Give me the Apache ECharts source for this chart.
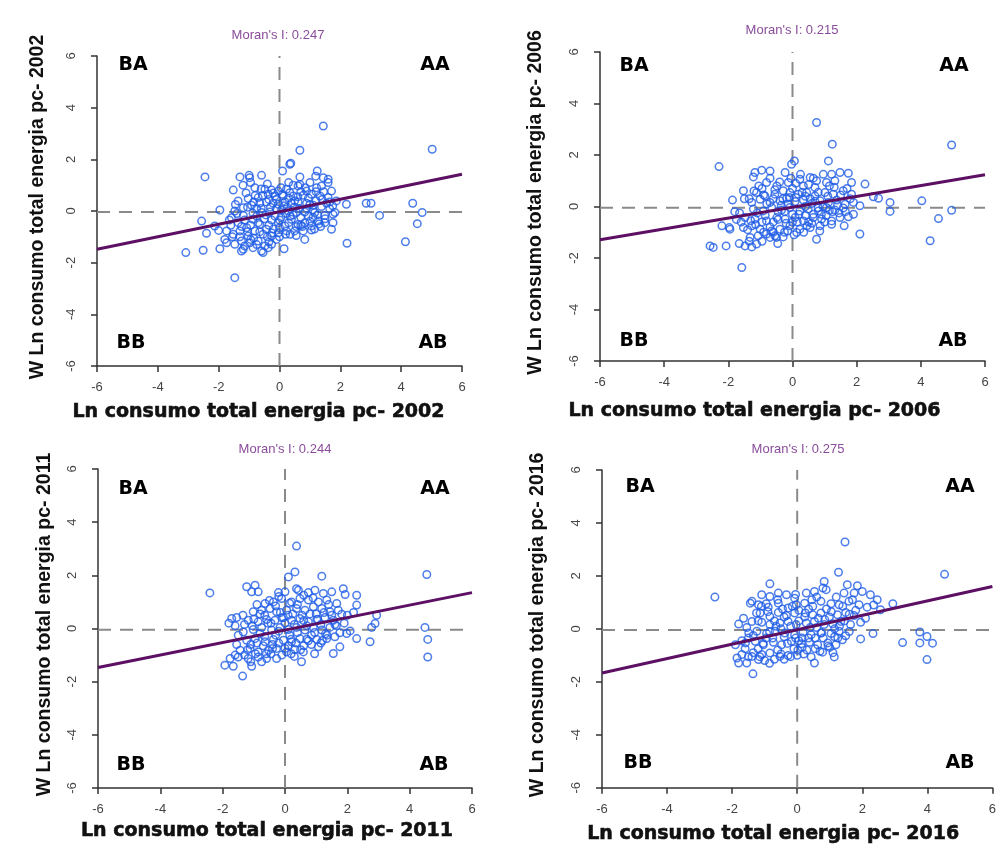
<!DOCTYPE html>
<html>
<head>
<meta charset="utf-8">
<style>
html,body{margin:0;padding:0;background:#fff;}
#chart{width:999px;height:845px;}
</style>
<script src="https://cdn.jsdelivr.net/npm/echarts@6/dist/echarts.min.js"></script>
</head>
<body>
<div id="chart"></div>
<script>
// ---------- data ----------
const years = ['2002', '2006', '2011', '2016'];
const moranI = ['0.247', '0.215', '0.244', '0.275'];
const tickValues = [-6, -4, -2, 0, 2, 4, 6];
const quadrantLabels = ['BA', 'AA', 'BB', 'AB'];
const lineX = [-6, 6];
const lineY2002 = [-1.48, 1.42];
const lineY2006 = [-1.29, 1.23];
const lineY2011 = [-1.47, 1.35];
const lineY2016 = [-1.67, 1.60];
const meanLag = [-0.04, -0.05, -0.05, -0.04];

const points2002 = [
[-2.45,1.32],[-1.30,1.32],[-1.00,1.38],[-0.98,1.29],[-0.59,1.38],[0.10,1.55],[0.37,1.85],[0.34,1.81],[0.67,2.35],[1.44,3.29],[0.67,1.32],[1.24,1.55],[1.19,1.35],[1.44,1.29],[1.60,1.23],
[-1.52,0.81],[-0.81,0.90],[-0.48,0.84],[-0.26,0.81],[-0.04,0.77],[0.23,0.84],[0.34,0.71],[0.61,0.97],[0.67,1.03],[0.89,0.77],[1.22,0.90],[1.38,0.97],[1.60,1.10],[1.71,0.77],[-1.36,0.39],[-1.03,0.48],[-0.70,0.52],[-0.37,0.65],[-0.15,0.58],[0.12,0.58],[0.45,0.58],[0.78,0.61],[1.05,0.65],[1.33,0.58],[1.60,0.52],[1.87,0.39],[2.20,0.26],
[-1.96,0.04],[-1.47,0.00],[-1.19,0.13],[-0.92,0.22],[-0.65,0.30],[-0.43,0.35],[-0.21,0.30],[-0.04,0.26],[0.18,0.35],[0.39,0.30],[0.61,0.35],[0.89,0.30],[1.11,0.22],[1.38,0.17],[1.65,0.09],[1.82,-0.06],[-1.19,-0.17],[-0.87,-0.09],[-0.59,-0.06],[-0.32,-0.04],[0.07,0.04],[0.28,0.00],[0.56,-0.06],[0.83,-0.04],[1.16,-0.06],[1.49,-0.17],[1.76,-0.13],
[-2.56,-0.39],[-2.13,-0.58],[-1.74,-0.77],[-1.58,-0.26],[-1.36,-0.45],[-1.08,-0.65],[-0.87,-0.32],[-0.65,-0.52],[-0.43,-0.71],[-0.26,-0.35],[-0.04,-0.45],[0.18,-0.58],[0.39,-0.32],[0.61,-0.52],[0.83,-0.45],[1.05,-0.58],[1.27,-0.39],[1.49,-0.45],[1.76,-0.45],[1.71,-0.71],[-2.40,-0.86],[-1.80,-1.10],[-1.52,-0.90],[-1.30,-0.77],[-1.03,-0.97],[-0.81,-0.77],[-0.54,-0.90],[-0.26,-0.97],[-0.04,-0.84],[0.23,-0.77],[0.50,-0.77],[0.78,-0.77],[1.05,-0.74],
[-1.74,-1.23],[-1.47,-1.29],[-1.25,-1.16],[-0.98,-1.23],[-0.70,-1.16],[-0.48,-1.35],[-0.26,-1.29],[-0.10,-1.10],[0.83,-1.10],[-1.25,-1.55],[-1.19,-1.48],[-0.87,-1.42],[-0.59,-1.55],[-0.37,-1.42],[-0.54,-1.61],[-3.08,-1.61],[-2.51,-1.52],[-1.96,-1.46],[0.15,-1.46],[2.22,-1.25],[-1.47,-2.58],
[2.85,0.30],[3.01,0.30],[3.29,-0.17],[4.14,-1.19],[4.38,0.30],[4.53,-0.49],[4.69,-0.06],[5.02,2.39],
[-1.1,0.7],[-0.75,0.1],[-0.55,0.6],[-0.3,0.15],[-0.1,0.45],[0.05,0.9],[0.3,0.5],[0.5,0.15],[0.7,0.75],[0.95,0.5],[1.2,0.4],[1.45,0.75],[1.55,0.3],[-1.6,-0.55],[-1.4,-0.1],[-1.15,-0.35],[-0.95,-0.55],[-0.75,-0.2],[-0.5,-0.3],[-0.35,-0.55],[-0.15,-0.2],[0.05,-0.25],[0.2,-0.1],[0.3,-0.45],[0.45,-0.15],[0.7,-0.25],[0.95,-0.2],[1.0,-0.4],[1.25,-0.15],[1.35,-0.6],[-1.3,-1.0],[-1.05,-0.8],[-0.85,-1.05],[-0.65,-0.8],[-0.4,-1.0],[-0.2,-0.7],[0.0,-0.65],[0.35,-0.9],[0.55,-0.6],[0.7,-0.55],[1.15,-0.7],[-0.85,0.35],[-0.6,0.1],[-0.2,0.7],[0.15,0.2],[0.6,0.55],[0.9,0.1],[1.1,0.05],[-1.2,1.0],[0.45,1.0],
[-1.65,-0.35],[-1.45,0.25],[-1.25,-0.6],[-1.05,0.15],[-0.95,-1.1],[-0.8,0.6],[-0.7,-0.45],[-0.6,0.85],[-0.45,-0.15],[-0.35,0.45],[-0.25,-0.85],[-0.1,0.1],[0.0,-0.35],[0.1,0.65],[0.2,-0.9],[0.25,0.15],[0.35,-0.2],[0.5,0.4],[0.55,-0.95],[0.65,0.1],[0.75,-0.6],[0.85,0.9],[1.0,0.25],[1.1,-0.25],[1.2,0.75],[1.3,-0.5],[1.4,0.45],[1.5,-0.3],[1.65,0.35],[-1.55,-1.0],[-1.15,-1.35],[-0.75,-1.3],[-0.35,-1.2],[0.0,-1.0],[-0.95,1.1],[-0.4,1.05],[0.3,1.1],[1.0,1.1],[1.75,0.2],[-2.0,-0.75]
];

const points2006 = [
[0.75,3.26],[1.24,2.42],[1.12,1.77],[-2.29,1.55],[0.06,1.77],[-0.03,1.64],[-1.17,1.32],[-0.96,1.41],[-0.70,1.38],[-1.22,1.15],[-0.23,1.32],
[0.23,1.06],[0.55,1.13],[0.75,1.00],[0.96,1.25],[1.22,1.25],[1.48,1.32],[1.74,1.29],
[-0.81,0.93],[-0.49,0.80],[-0.13,0.93],[0.34,0.80],[0.70,0.74],[1.06,0.93],[1.32,1.00],[1.84,0.93],[2.26,0.87],
[-1.53,0.61],[-1.12,0.54],[-0.86,0.41],[-0.55,0.48],[-0.29,0.61],[-0.08,0.54],[0.18,0.48],[0.44,0.54],[0.70,0.41],[1.01,0.54],[1.27,0.48],[1.58,0.61],[1.84,0.48],[2.52,0.38],
[-1.87,0.25],[-1.27,0.16],[-1.01,0.28],[-0.70,0.16],[-0.39,0.22],[-0.18,0.32],[0.08,0.19],[0.34,0.25],[0.60,0.12],[0.86,0.22],[1.12,0.16],[1.38,0.25],[1.64,0.09],[1.90,0.16],[2.10,0.03],
[-1.22,-0.10],[-0.91,-0.17],[-0.65,-0.04],[-0.34,-0.14],[-0.08,-0.04],[0.23,-0.17],[0.49,-0.10],[0.81,-0.17],[1.06,-0.04],[1.32,-0.14],[1.58,-0.06],
[-1.48,-0.43],[-1.17,-0.49],[-0.81,-0.56],[-0.49,-0.43],[-0.23,-0.49],[0.08,-0.43],[0.34,-0.56],[0.65,-0.43],[0.91,-0.49],[1.22,-0.56],[1.48,-0.43],[1.74,-0.40],
[-1.97,-0.82],[-1.95,-0.88],[-1.53,-0.82],[-1.27,-0.75],[-1.01,-0.88],[-0.70,-0.79],[-0.39,-0.88],[-0.08,-0.75],[0.23,-0.88],[0.55,-0.82],[0.86,-0.75],[1.22,-0.69],[1.61,-0.75],
[-1.32,-1.20],[-1.07,-1.14],[-0.81,-1.07],[-0.55,-1.14],[-0.29,-1.18],[0.13,-1.01],[0.75,-1.27],[2.10,-1.07],
[-2.57,-1.53],[-2.47,-1.59],[-2.07,-1.53],[-1.66,-1.44],[-1.48,-1.53],[-1.27,-1.57],[-1.12,-1.46],[-0.46,-1.44],[-1.58,-2.37],
[2.68,0.32],[3.04,0.16],[3.04,-0.19],[4.03,0.22],[4.29,-1.33],[4.55,-0.47],[4.96,2.39],[4.96,-0.15],
[-0.95,0.7],[-0.6,0.3],[-0.4,0.95],[-0.15,0.1],[0.0,0.7],[0.1,0.35],[0.4,0.0],[0.5,0.85],[0.7,0.2],[0.9,-0.3],[1.1,0.4],[1.3,0.75],[1.45,-0.25],[-1.35,0.3],[-1.1,-0.25],[-0.85,-0.35],[-0.6,-0.6],[-0.45,-0.2],[-0.2,-0.65],[0.0,-0.3],[0.15,-0.6],[0.4,-0.35],[0.6,-0.65],[0.8,-0.05],[1.0,-0.6],[1.15,-0.15],[-1.4,-0.9],[-1.15,-0.7],[-0.9,-1.0],[-0.65,-0.95],[-0.5,-1.2],[-0.15,-0.95],[0.05,-1.1],[0.35,-1.0],[0.5,-0.6],[-1.6,-0.6],[-1.8,-0.2],[0.25,1.25],[-0.7,1.1],[1.9,-0.3],[1.7,0.7],[-0.3,0.3],
[-1.65,-0.25],[-1.5,0.3],[-1.3,-0.55],[-1.05,0.8],[-0.95,-0.6],[-0.8,0.1],[-0.7,-1.2],[-0.55,0.65],[-0.45,-0.5],[-0.35,0.05],[-0.25,-1.0],[-0.1,0.35],[0.0,-0.6],[0.1,0.9],[0.2,-0.3],[0.3,0.55],[0.45,-0.75],[0.55,0.3],[0.65,-0.3],[0.8,0.55],[0.95,0.0],[1.05,-0.35],[1.15,0.8],[1.25,-0.2],[1.4,0.05],[1.5,0.45],[1.65,-0.2],[-1.75,-0.5],[-1.35,-1.35],[-0.95,-1.35],[-0.6,-1.0],[-0.25,-0.2],[0.4,0.4],[0.65,1.1],[-0.05,1.1],[-1.2,0.6],[1.8,0.3],[-2.2,-0.75],[0.85,-0.95],[-0.9,0.45]
];

const points2011 = [
[0.37,3.10],[0.32,2.13],[0.11,1.94],[1.18,1.97],[-2.41,1.34],[-1.23,1.57],[-0.96,1.63],[-1.07,1.38],[-0.86,1.38],[-0.21,1.35],[0.00,1.38],[0.37,1.50],[0.43,1.44],
[0.96,1.44],[1.23,1.32],[1.50,1.38],[1.87,1.50],[1.93,1.28],[2.30,1.25],
[-0.64,0.94],[-0.37,1.00],[-0.11,1.13],[0.21,1.00],[0.48,1.13],[0.75,1.07],[1.07,1.00],[1.34,1.07],[1.66,0.94],[2.30,0.88],
[-1.02,0.63],[-0.75,0.69],[-0.48,0.75],[-0.27,0.63],[0.05,0.69],[0.37,0.75],[0.64,0.69],[0.91,0.82],[1.18,0.75],[1.44,0.63],[1.71,0.69],
[-1.71,0.38],[-1.55,0.41],[-1.18,0.31],[-0.86,0.25],[-0.59,0.34],[-0.32,0.31],[-0.05,0.41],[0.21,0.31],[0.48,0.38],[0.75,0.25],[1.02,0.34],[1.28,0.41],[1.55,0.31],[1.82,0.54],
[2.94,0.50],[2.89,0.19],[2.78,0.04],
[-1.34,-0.13],[-1.02,-0.04],[-0.75,0.04],[-0.43,-0.06],[-0.16,0.04],[0.11,-0.04],[0.37,0.04],[0.64,-0.06],[0.91,0.04],[1.18,-0.06],[1.44,0.04],[1.76,-0.16],[2.09,-0.09],
[-1.23,-0.44],[-0.96,-0.38],[-0.64,-0.50],[-0.37,-0.41],[-0.05,-0.44],[0.21,-0.50],[0.48,-0.38],[0.75,-0.46],[1.02,-0.41],[1.34,-0.38],[1.60,-0.31],[1.98,-0.19],[2.30,-0.38],[2.73,-0.50],
[-1.44,-0.82],[-1.12,-0.75],[-0.86,-0.88],[-0.53,-0.82],[-0.27,-0.75],[0.05,-0.88],[0.32,-0.79],[0.59,-0.88],[1.07,-0.69],[1.55,-0.94],[1.76,-0.69],
[-1.76,-1.13],[-1.50,-1.07],[-1.18,-1.13],[-0.86,-1.07],[-0.59,-1.13],[-0.27,-1.13],[0.53,-1.25],[-1.93,-1.38],[-1.66,-1.42],[-1.07,-1.42],[-1.36,-1.79],
[4.55,2.03],[4.49,0.04],[4.58,-0.41],[4.58,-1.07],
[-1.3,0.15],[-1.0,0.35],[-0.8,-0.2],[-0.65,0.5],[-0.45,0.2],[-0.3,-0.25],[-0.15,0.6],[0.0,0.2],[0.15,-0.25],[0.25,0.55],[0.4,-0.15],[0.55,0.5],[0.7,0.1],[0.85,-0.25],[1.0,0.55],[1.15,0.15],[1.3,-0.2],[1.4,0.9],[-1.1,-0.6],[-0.95,-0.95],[-0.7,-0.65],[-0.45,-0.95],[-0.2,-0.55],[0.1,-0.65],[0.35,-0.55],[0.6,-0.65],[0.85,-0.6],[1.2,-0.45],[-1.3,-1.0],[-0.75,-1.25],[-0.4,-0.75],[0.2,-0.95],[-0.5,1.05],[0.15,0.95],[0.6,1.25],[0.9,1.15],[-1.55,-0.6],[-1.6,0.1],[1.6,0.15],[2.0,0.5],
[-1.5,-0.25],[-1.35,0.5],[-1.2,-0.8],[-1.05,0.1],[-0.9,-0.55],[-0.8,0.55],[-0.65,-0.3],[-0.55,0.2],[-0.4,-0.6],[-0.3,0.85],[-0.2,-0.1],[-0.1,0.4],[0.0,-0.75],[0.1,0.5],[0.2,-0.4],[0.3,0.15],[0.4,0.9],[0.5,-0.8],[0.6,0.3],[0.7,-0.4],[0.8,0.55],[0.95,-0.15],[1.05,0.35],[1.15,-0.55],[1.25,0.6],[1.35,-0.25],[1.5,0.5],[1.65,0.1],[-1.6,-1.0],[-1.1,-1.25],[-0.6,-0.95],[-0.1,-1.0],[0.3,-1.05],[-0.9,0.9],[-0.2,1.2],[0.75,1.35],[1.9,0.2],[-1.8,0.2],[0.95,-0.95],[2.2,0.6]
];

const points2016 = [
[1.47,3.28],[1.27,2.14],[-0.84,1.70],[0.83,1.79],[-2.53,1.20],
[-1.39,1.04],[-1.09,1.29],[-0.84,1.22],[-0.58,1.35],[-0.33,1.29],[-0.08,1.16],[0.28,1.35],[0.53,1.41],[0.79,1.54],[0.89,1.48],
[1.54,1.67],[1.85,1.63],[1.44,1.35],[1.75,1.35],[2.00,1.41],[2.25,1.29],[2.46,1.10],[2.56,0.72],
[-1.44,0.97],[-1.19,0.91],[-0.89,0.82],[-0.58,0.97],[-0.28,0.79],[-0.03,0.91],[0.23,0.97],[0.48,0.85],[0.73,1.04],[1.04,0.95],[1.29,0.91],[1.59,1.04],[1.90,0.91],[2.15,0.82],
[-1.14,0.60],[-0.84,0.47],[-0.58,0.62],[-0.33,0.50],[-0.08,0.60],[0.23,0.45],[0.48,0.53],[0.73,0.60],[0.99,0.45],[1.24,0.53],[1.49,0.62],[1.75,0.50],
[-1.80,0.18],[-1.39,0.28],[-1.09,0.25],[-0.84,0.16],[-0.53,0.22],[-0.28,0.28],[-0.03,0.16],[0.28,0.22],[0.53,0.28],[0.83,0.16],[1.09,0.19],[1.34,0.28],[1.64,0.16],[1.95,0.25],
[-1.49,-0.16],[-1.24,-0.09],[-0.94,-0.18],[-0.68,-0.09],[-0.38,-0.16],[-0.08,-0.22],[0.18,-0.13],[0.43,-0.22],[0.73,-0.16],[1.04,-0.18],[1.29,-0.09],[1.49,-0.26],[1.95,-0.38],[2.33,-0.18],
[-1.59,-0.53],[-1.29,-0.47],[-1.04,-0.60],[-0.73,-0.51],[-0.48,-0.60],[-0.18,-0.47],[0.13,-0.56],[0.38,-0.51],[0.63,-0.60],[0.94,-0.53],[1.19,-0.60],[1.39,-0.41],
[-1.85,-1.10],[-1.70,-0.97],[-1.39,-1.04],[-1.09,-0.97],[-0.84,-0.91],[-0.53,-1.04],[-0.28,-1.01],[0.02,-0.81],[0.43,-1.06],[0.78,-0.88],[1.14,-1.06],[0.53,-1.29],
[-1.80,-1.29],[-1.55,-1.29],[-1.19,-1.16],[-1.36,-1.70],
[2.94,0.95],[4.53,2.06],[3.24,-0.52],[3.77,-0.12],[3.77,-0.53],[3.99,-0.29],[4.16,-0.54],[3.99,-1.16],
[-1.25,0.6],[-0.95,0.95],[-0.7,0.3],[-0.45,0.75],[-0.2,0.1],[0.05,0.7],[0.15,-0.35],[0.35,0.75],[0.6,0.05],[0.9,0.75],[1.15,0.0],[1.4,0.85],[1.6,-0.1],[-1.5,-0.35],[-1.2,-0.75],[-0.95,-0.35],[-0.6,-0.8],[-0.4,-0.3],[-0.1,-0.75],[0.05,-0.45],[0.3,-0.8],[0.55,-0.35],[0.8,-0.35],[1.0,-0.7],[1.25,-0.35],[-1.6,-0.75],[-1.0,-1.2],[-0.7,-1.15],[-0.2,-1.05],[0.2,-0.95],[-0.5,0.0],[-0.85,-0.1],[0.4,0.05],[1.8,0.7],[1.2,1.2],[-1.65,0.4],[2.1,0.4],[0.7,-0.85],[-0.05,1.3],[-1.35,-0.25],
[-1.7,-0.45],[-1.55,0.05],[-1.35,-0.9],[-1.2,0.3],[-1.05,-0.55],[-0.9,0.65],[-0.75,-0.35],[-0.65,0.1],[-0.5,-0.95],[-0.4,0.45],[-0.3,-0.55],[-0.15,0.85],[-0.05,-0.35],[0.05,0.3],[0.15,-0.7],[0.25,0.6],[0.35,-0.35],[0.45,1.1],[0.55,-0.75],[0.65,0.4],[0.75,-0.15],[0.85,0.35],[0.95,-0.65],[1.05,0.65],[1.15,-0.3],[1.3,0.1],[1.45,0.3],[1.6,0.55],[-1.5,-1.05],[-1.15,-1.05],[-0.85,-1.3],[-0.4,-1.15],[0.0,-1.0],[-1.1,0.85],[-0.6,1.1],[0.6,1.2],[1.7,1.1],[-1.9,-0.6],[1.1,-0.9],[2.35,0.9]
];

// ---------- layout ----------
const pointsAll = [points2002, points2006, points2011, points2016];
const linesAll = [lineY2002, lineY2006, lineY2011, lineY2016];
const grids = [
  {left: 97, top: 56, width: 365, height: 310},
  {left: 600, top: 52, width: 385, height: 309},
  {left: 98, top: 469, width: 374, height: 319},
  {left: 602, top: 470, width: 395, height: 318}
];
const yNameGap = [49, 54, 43, 54];
const xNameGap = [37, 41, 34, 37];
const xNameShift = [42, 76, 36, 48];
const quadPos = [
  [[133,65],[435,65],[131,343],[433,343]],
  [[634,66],[954,66],[634,341],[953,341]],
  [[133,489],[435,489],[131,765],[434,765]],
  [[640,487],[960,487],[638,763],[960,763]]
];
const titlePos = [[278,35],[792,30],[285,449],[798,449]];

const axisColor = '#333';
const pointColor = '#1F5DE6';
const regColor = '#5C0F63';
const dashColor = '#8A8A8A';

const xAxes = [], yAxes = [], series = [], graphics = [];
years.forEach((yr, i) => {
  xAxes.push({
    gridIndex: i, type: 'value', min: -6, max: 6, interval: 2,
    name: 'Ln consumo total energia pc- ' + yr,
    nameLocation: 'middle', nameGap: xNameGap[i],
    nameTextStyle: {fontFamily: 'DejaVu Sans', fontWeight: 'bold', fontSize: 19, color: '#111',
      textBorderColor: '#111', textBorderWidth: 0.6, padding: [0, xNameShift[i], 0, 0]},
    axisLine: {show: true, onZero: false, lineStyle: {color: axisColor, width: 1.5}},
    axisTick: {show: true, length: 6, lineStyle: {color: axisColor, width: 1.5}},
    axisLabel: {fontFamily: 'Liberation Sans', fontSize: 13, color: '#444', margin: 15,
      formatter: v => tickValues.includes(v) ? String(v) : ''},
    splitLine: {show: false}
  });
  yAxes.push({
    gridIndex: i, type: 'value', min: -6, max: 6, interval: 2,
    name: 'W Ln consumo total energia pc- ' + yr,
    nameLocation: 'middle', nameGap: yNameGap[i], nameRotate: 90,
    nameTextStyle: {fontFamily: 'Liberation Sans', fontWeight: 'bold', fontSize: 19.5, color: '#111',
      padding: [0, 0, 0, 8]},
    axisLine: {show: true, onZero: false, lineStyle: {color: axisColor, width: 1.5}},
    axisTick: {show: true, length: 6, lineStyle: {color: axisColor, width: 1.5}},
    axisLabel: {fontFamily: 'Liberation Sans', fontSize: 13, color: '#444', margin: 19, rotate: 90,
      formatter: v => tickValues.includes(v) ? String(v) : ''},
    splitLine: {show: false}
  });
  series.push({
    type: 'line', xAxisIndex: i, yAxisIndex: i, silent: true, symbol: 'none',
    data: [[0, -6], [0, 6]],
    lineStyle: {color: dashColor, width: 2, type: [13, 9]}, z: 1
  });
  series.push({
    type: 'line', xAxisIndex: i, yAxisIndex: i, silent: true, symbol: 'none',
    data: [[-6, meanLag[i]], [6, meanLag[i]]],
    lineStyle: {color: dashColor, width: 2, type: [13, 9]}, z: 1
  });
  series.push({
    type: 'scatter', xAxisIndex: i, yAxisIndex: i,
    data: pointsAll[i], symbol: 'circle', symbolSize: 7.5,
    itemStyle: {color: 'rgba(255,255,255,0)', borderColor: pointColor, borderWidth: 1.5},
    z: 2
  });
  series.push({
    type: 'line', xAxisIndex: i, yAxisIndex: i, silent: true, symbol: 'none',
    data: [[lineX[0], linesAll[i][0]], [lineX[1], linesAll[i][1]]],
    lineStyle: {color: regColor, width: 3}, z: 3
  });
  graphics.push({
    type: 'text', x: titlePos[i][0], y: titlePos[i][1],
    style: {text: "Moran's I: " + moranI[i], fill: '#8A4C9A', fontFamily: 'Liberation Sans', fontSize: 13,
      textAlign: 'center', textVerticalAlign: 'middle'}
  });
  quadrantLabels.forEach((q, k) => {
    graphics.push({
      type: 'text', x: quadPos[i][k][0], y: quadPos[i][k][1],
      style: {text: q, fill: '#000', fontFamily: 'DejaVu Sans', fontWeight: 'bold', fontSize: 19,
        textAlign: 'center', textVerticalAlign: 'middle'}
    });
  });
});

const chart = echarts.init(document.getElementById('chart'), null, {renderer: 'canvas'});
chart.setOption({
  animation: false,
  backgroundColor: '#fff',
  grid: grids,
  xAxis: xAxes,
  yAxis: yAxes,
  series: series,
  graphic: graphics
});
</script>
</body>
</html>
